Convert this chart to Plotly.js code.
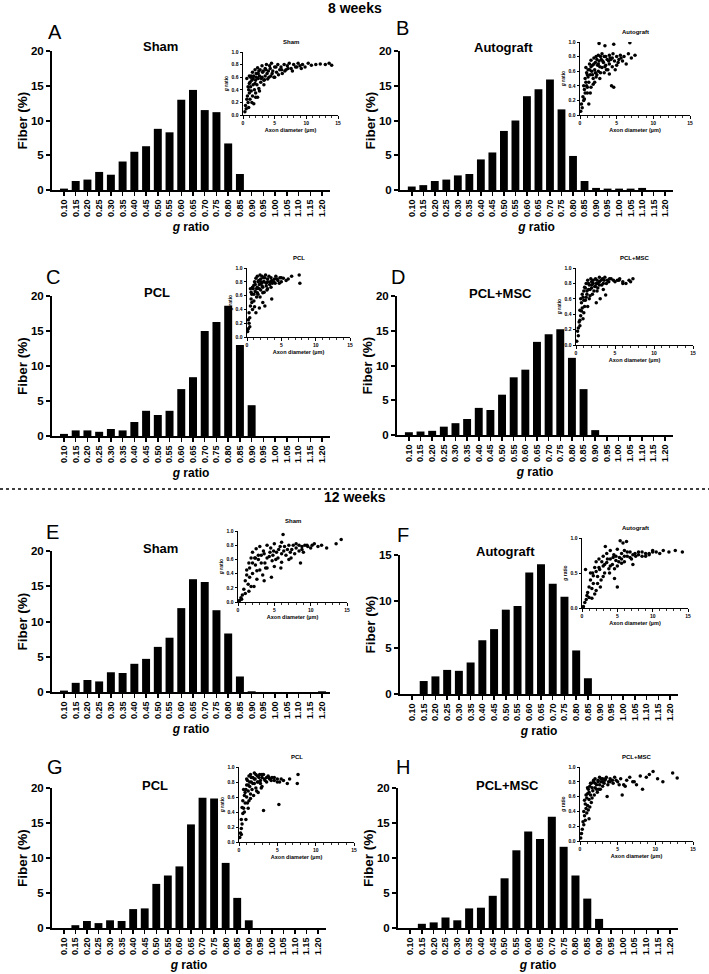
<!DOCTYPE html>
<html>
<head>
<meta charset="utf-8">
<script src="https://cdn.plot.ly/plotly-3.0.1.min.js"></script>
<style>html,body{margin:0;padding:0;background:#fff;}#chart{width:709px;height:974px;}</style>
</head>
<body>
<div id="chart"></div>
<script>
// ---------- DATA ----------
const gRatioBins = ['0.10','0.15','0.20','0.25','0.30','0.35','0.40','0.45','0.50','0.55','0.60','0.65','0.70','0.75','0.80','0.85','0.90','0.95','1.00','1.05','1.10','1.15','1.20'];

const shamWk8      = [0.2,1.3,1.5,2.6,2.2,4.1,5.5,6.3,8.8,8.3,13.0,14.4,11.5,11.2,6.7,2.3,0,0,0,0,0,0,0];
const autograftWk8 = [0.5,0.7,1.3,1.5,2.1,2.3,4.4,5.4,8.5,10.0,13.5,14.5,15.9,11.6,4.9,1.3,0.3,0.2,0.2,0.2,0.3,0,0];
const pclWk8       = [0.3,0.8,0.8,0.6,1.0,0.8,2.0,3.6,3.0,3.6,6.7,8.4,15.0,16.3,18.6,13.0,4.4,0,0,0,0,0,0];
const pclMscWk8    = [0.4,0.5,0.6,1.2,1.7,2.3,3.9,3.6,5.8,8.3,9.4,13.4,14.5,15.2,11.1,6.6,0.7,0,0,0,0,0,0];
const shamWk12     = [0.2,1.3,1.7,1.5,2.8,2.7,4.0,4.7,6.4,7.7,11.9,16.0,15.6,11.6,8.3,2.2,0.1,0,0,0,0,0,0.1];
const autograftWk12= [0,1.4,1.9,2.6,2.5,3.4,5.8,7.0,9.1,9.5,13.1,14.0,11.9,10.5,4.7,1.7,0,0,0,0,0,0,0];
const pclWk12      = [0,0.4,1.0,0.7,1.1,1.0,2.7,2.8,6.3,7.5,8.8,14.8,18.6,18.5,9.3,4.3,1.1,0,0,0,0,0,0];
const pclMscWk12   = [0,0.6,0.8,1.5,1.1,2.8,2.9,4.6,7.1,11.1,13.8,12.7,15.9,11.6,7.5,4.2,1.3,0,0,0,0,0,0];

// inset scatter: axon diameter (µm) vs g ratio (estimated sample of visible points)
const shamWk8AxonX = [0.3,0.4,0.5,0.6,0.7,0.8,0.9,1.0,1.0,1.1,1.2,1.2,1.3,1.4,1.5,1.5,1.6,1.7,1.8,1.9,2.0,2.0,2.1,2.2,2.3,2.4,2.5,2.5,2.6,2.8,3.0,3.0,3.1,3.3,3.5,3.5,3.7,3.9,4.0,4.2,4.4,4.5,4.7,5.0,5.0,5.3,5.5,5.8,6.0,6.2,6.5,6.8,7.0,7.3,7.6,8.0,8.3,8.7,9.0,9.4,9.8,10.3,10.8,11.5,12.2,13.0,13.6,14.0,1.0,1.7,2.3,0.6,
  0.8,1.1,1.3,1.6,1.9,2.1,2.4,2.7,2.9,3.2,3.4,3.6,3.8,4.1,4.3,4.6,4.9,5.2,5.6,6.1,6.6,7.1,7.8,8.5,9.2,0.9,1.4,2.0,2.6,3.3];
const shamWk8G     = [0.05,0.15,0.10,0.25,0.30,0.20,0.40,0.35,0.50,0.25,0.45,0.60,0.38,0.55,0.30,0.68,0.48,0.62,0.40,0.72,0.55,0.35,0.66,0.48,0.75,0.58,0.42,0.70,0.62,0.52,0.78,0.60,0.68,0.48,0.74,0.62,0.80,0.57,0.70,0.78,0.62,0.82,0.70,0.76,0.60,0.68,0.80,0.72,0.76,0.66,0.80,0.72,0.78,0.82,0.74,0.80,0.76,0.82,0.78,0.80,0.76,0.82,0.79,0.80,0.81,0.80,0.82,0.79,0.62,0.18,0.28,0.58,
  0.45,0.52,0.62,0.58,0.50,0.60,0.66,0.72,0.58,0.70,0.56,0.72,0.66,0.60,0.74,0.66,0.60,0.76,0.64,0.72,0.70,0.74,0.70,0.76,0.74,0.12,0.20,0.28,0.38,0.55];

const autoWk8AxonX = [0.1,0.2,0.3,0.4,0.5,0.6,0.7,0.8,0.9,1.0,1.0,1.1,1.2,1.3,1.4,1.5,1.5,1.6,1.7,1.8,1.9,2.0,2.0,2.1,2.2,2.3,2.4,2.5,2.5,2.6,2.7,2.8,3.0,3.0,3.2,3.3,3.5,3.5,3.7,3.8,4.0,4.0,4.2,4.4,4.5,4.7,5.0,5.0,5.3,5.5,5.8,6.0,6.3,6.6,7.0,7.5,2.6,3.4,4.6,6.8,4.3,4.6,1.2,0.8,
  0.5,0.7,0.9,1.1,1.3,1.5,1.7,1.9,2.1,2.3,2.5,2.7,2.9,3.1,3.3,3.6,3.9,4.1,4.4,4.8,5.2,5.6,0.6,1.0,1.4,1.8,2.2,2.8,3.4,4.0];
const autoWk8G     = [0.05,0.15,0.10,0.25,0.20,0.35,0.30,0.45,0.40,0.55,0.30,0.62,0.45,0.70,0.55,0.38,0.75,0.60,0.68,0.50,0.78,0.62,0.45,0.72,0.80,0.55,0.68,0.82,0.60,0.74,0.50,0.80,0.65,0.84,0.72,0.58,0.80,0.68,0.76,0.62,0.82,0.70,0.76,0.66,0.84,0.74,0.80,0.68,0.76,0.82,0.74,0.80,0.70,0.84,0.78,0.82,0.98,0.95,0.97,0.99,0.40,0.38,0.15,0.65,
  0.40,0.50,0.58,0.52,0.62,0.66,0.55,0.70,0.58,0.76,0.70,0.66,0.76,0.74,0.80,0.62,0.74,0.78,0.78,0.62,0.72,0.78,0.22,0.38,0.30,0.42,0.52,0.58,0.66,0.56];

const pclWk8AxonX  = [0.1,0.2,0.3,0.3,0.4,0.5,0.6,0.7,0.8,0.9,1.0,1.0,1.1,1.2,1.3,1.4,1.5,1.5,1.6,1.7,1.8,1.9,2.0,2.0,2.1,2.2,2.3,2.4,2.5,2.5,2.7,2.8,3.0,3.0,3.2,3.4,3.5,3.7,4.0,4.2,4.5,4.8,5.0,5.3,5.7,6.0,6.5,7.6,7.7,0.5,1.8,2.3,2.6,3.6,
  0.6,0.8,1.0,1.2,1.4,1.6,1.8,2.0,2.2,2.4,2.6,2.8,3.0,3.3,3.6,3.9,4.1,4.4,4.7,5.0,0.7,1.1,1.5,1.9,2.3,2.9,3.5,0.4,0.2,1.3];
const pclWk8G      = [0.08,0.12,0.20,0.35,0.28,0.45,0.55,0.62,0.40,0.70,0.75,0.52,0.80,0.66,0.85,0.58,0.72,0.88,0.62,0.82,0.76,0.90,0.68,0.84,0.78,0.88,0.72,0.86,0.80,0.65,0.90,0.78,0.84,0.70,0.88,0.80,0.86,0.78,0.84,0.88,0.82,0.86,0.80,0.85,0.82,0.84,0.88,0.90,0.78,0.70,0.42,0.50,0.45,0.55,
  0.65,0.72,0.62,0.76,0.70,0.80,0.70,0.80,0.74,0.80,0.86,0.74,0.80,0.76,0.82,0.80,0.78,0.84,0.78,0.86,0.50,0.44,0.64,0.58,0.64,0.68,0.72,0.15,0.25,0.35];

const mscWk8AxonX  = [0.1,0.2,0.3,0.4,0.5,0.5,0.6,0.7,0.8,0.9,1.0,1.0,1.1,1.2,1.3,1.4,1.5,1.5,1.6,1.7,1.8,1.9,2.0,2.0,2.2,2.3,2.5,2.5,2.7,2.8,3.0,3.0,3.2,3.4,3.5,3.7,4.0,4.2,4.5,4.8,5.0,5.3,5.6,6.0,6.4,6.8,7.3,2.6,3.1,3.8,
  0.6,0.8,1.0,1.2,1.4,1.6,1.8,2.0,2.2,2.4,2.6,2.8,3.0,3.3,3.6,3.9,4.3,0.7,0.9,1.1,1.3,1.7,2.1,2.7,3.5,5.5,6.0,7.0,0.3,0.5];
const mscWk8G      = [0.05,0.18,0.12,0.30,0.25,0.45,0.38,0.55,0.48,0.62,0.70,0.42,0.75,0.58,0.80,0.66,0.50,0.84,0.72,0.78,0.64,0.86,0.74,0.82,0.80,0.70,0.86,0.76,0.84,0.80,0.88,0.78,0.84,0.86,0.80,0.88,0.84,0.82,0.86,0.84,0.82,0.84,0.86,0.82,0.80,0.84,0.86,0.55,0.60,0.65,
  0.60,0.66,0.58,0.74,0.70,0.80,0.72,0.78,0.84,0.76,0.80,0.74,0.82,0.78,0.84,0.80,0.86,0.44,0.34,0.50,0.62,0.60,0.66,0.70,0.72,0.84,0.80,0.82,0.22,0.32];

const shamWk12AxonX= [0.2,0.4,0.6,0.8,1.0,1.0,1.2,1.4,1.5,1.6,1.8,2.0,2.0,2.2,2.4,2.5,2.6,2.8,3.0,3.0,3.2,3.4,3.5,3.7,4.0,4.0,4.3,4.5,4.7,5.0,5.0,5.3,5.5,5.8,6.0,6.0,6.3,6.6,7.0,7.0,7.4,7.8,8.0,8.4,8.8,9.0,9.5,10.0,10.5,11.0,11.5,12.2,13.5,14.2,6.2,1.5,3.6,2.3,4.6,8.6,
  1.2,1.6,2.0,2.4,2.8,3.2,3.6,4.0,4.4,4.8,5.2,5.6,6.0,6.4,6.8,7.2,7.6,8.0,8.4,8.8,9.2,9.6,10.2,2.6,3.8,4.9,5.9,7.3,0.5,1.8];
const shamWk12G    = [0.02,0.06,0.10,0.18,0.30,0.12,0.45,0.25,0.55,0.35,0.62,0.40,0.70,0.22,0.52,0.75,0.32,0.60,0.78,0.45,0.66,0.38,0.72,0.55,0.80,0.48,0.64,0.76,0.58,0.82,0.50,0.70,0.62,0.78,0.84,0.56,0.72,0.66,0.80,0.60,0.74,0.68,0.82,0.72,0.78,0.70,0.80,0.76,0.82,0.78,0.80,0.76,0.82,0.88,0.95,0.15,0.30,0.62,0.35,0.55,
  0.38,0.48,0.55,0.62,0.66,0.55,0.68,0.62,0.70,0.66,0.60,0.74,0.68,0.78,0.74,0.70,0.80,0.76,0.80,0.74,0.80,0.78,0.80,0.44,0.48,0.72,0.48,0.62,0.04,0.22];

const autoWk12AxonX= [0.2,0.4,0.6,0.8,1.0,1.0,1.2,1.4,1.5,1.6,1.8,2.0,2.0,2.2,2.4,2.5,2.7,3.0,3.0,3.2,3.5,3.5,3.8,4.0,4.0,4.3,4.5,4.8,5.0,5.0,5.3,5.6,6.0,6.0,6.4,6.8,7.0,7.5,8.0,8.5,9.0,9.5,10.0,10.5,11.0,11.5,12.3,13.2,14.2,5.4,5.8,6.3,5.0,0.5,3.3,1.8,4.6,7.2,
  1.2,1.6,2.0,2.4,2.8,3.2,3.6,4.0,4.4,4.8,5.2,5.6,6.0,6.4,6.8,7.2,7.6,8.0,8.5,9.0,9.5,10.0,2.2,3.0,3.9,4.6,5.6,0.7,1.4,2.6];
const autoWk12G    = [0.02,0.08,0.12,0.22,0.30,0.15,0.40,0.28,0.50,0.35,0.58,0.25,0.66,0.45,0.70,0.55,0.40,0.74,0.60,0.50,0.78,0.65,0.56,0.82,0.70,0.62,0.76,0.68,0.84,0.60,0.72,0.78,0.82,0.66,0.74,0.80,0.70,0.78,0.76,0.80,0.74,0.78,0.82,0.80,0.78,0.82,0.80,0.82,0.80,0.96,0.93,0.95,0.30,0.55,0.88,0.20,0.42,0.62,
  0.50,0.46,0.52,0.58,0.66,0.62,0.70,0.60,0.72,0.74,0.66,0.70,0.74,0.80,0.72,0.76,0.74,0.80,0.74,0.78,0.76,0.80,0.35,0.45,0.50,0.56,0.64,0.18,0.14,0.30];

const pclWk12AxonX = [0.1,0.2,0.3,0.3,0.4,0.5,0.5,0.6,0.7,0.8,0.9,1.0,1.0,1.1,1.2,1.3,1.4,1.5,1.5,1.6,1.7,1.8,2.0,2.0,2.1,2.2,2.4,2.5,2.5,2.7,2.8,3.0,3.0,3.2,3.4,3.6,3.8,4.0,4.3,4.6,5.0,5.3,5.8,6.3,6.6,7.7,7.6,3.2,5.2,1.2,
  0.6,0.8,1.0,1.2,1.4,1.6,1.8,2.0,2.2,2.4,2.6,2.8,3.0,3.3,3.6,3.9,4.2,4.6,5.0,5.5,0.7,1.1,1.5,1.9,2.3,2.9,0.4,0.3,0.9,1.3];
const pclWk12G     = [0.06,0.12,0.18,0.30,0.24,0.38,0.55,0.45,0.62,0.52,0.70,0.76,0.60,0.82,0.68,0.88,0.74,0.58,0.90,0.80,0.70,0.86,0.78,0.92,0.84,0.72,0.88,0.80,0.66,0.90,0.82,0.86,0.74,0.90,0.82,0.86,0.88,0.84,0.86,0.82,0.84,0.80,0.82,0.78,0.84,0.90,0.78,0.42,0.50,0.45,
  0.70,0.66,0.84,0.76,0.80,0.86,0.78,0.84,0.90,0.80,0.86,0.78,0.90,0.84,0.80,0.86,0.82,0.86,0.80,0.84,0.40,0.52,0.64,0.62,0.68,0.72,0.46,0.10,0.30,0.55];

const mscWk12AxonX = [0.1,0.2,0.3,0.4,0.5,0.5,0.6,0.7,0.8,0.9,1.0,1.0,1.1,1.2,1.3,1.4,1.5,1.5,1.7,1.8,2.0,2.0,2.2,2.4,2.5,2.6,2.8,3.0,3.0,3.3,3.5,3.8,4.0,4.3,4.6,5.0,5.4,5.8,6.2,6.6,7.0,7.5,8.0,8.3,8.8,9.2,9.7,10.3,11.0,12.3,12.9,1.2,3.6,5.6,
  0.6,0.8,1.0,1.2,1.4,1.6,1.8,2.0,2.2,2.4,2.6,2.8,3.0,3.2,3.4,3.7,4.0,4.4,4.8,5.2,0.7,0.9,1.1,1.3,1.6,1.9,2.3,2.7,6.0,7.2];
const mscWk12G     = [0.04,0.10,0.16,0.26,0.22,0.40,0.34,0.50,0.44,0.58,0.64,0.48,0.70,0.56,0.74,0.62,0.52,0.78,0.68,0.80,0.72,0.84,0.76,0.82,0.70,0.86,0.80,0.84,0.74,0.82,0.86,0.80,0.84,0.82,0.86,0.80,0.84,0.76,0.82,0.86,0.80,0.76,0.88,0.70,0.86,0.90,0.94,0.84,0.80,0.92,0.85,0.30,0.60,0.62,
  0.55,0.62,0.72,0.66,0.78,0.72,0.82,0.78,0.70,0.80,0.76,0.84,0.80,0.78,0.84,0.76,0.80,0.78,0.82,0.76,0.28,0.38,0.42,0.46,0.58,0.62,0.66,0.70,0.74,0.80];

const groupNames = ['Sham','Autograft','PCL','PCL+MSC','Sham','Autograft','PCL','PCL+MSC'];
const panelLetters = ['A','B','C','D','E','F','G','H'];

// ---------- LAYOUT GEOMETRY (pixels) ----------
const W = 709, H = 974;
const FONT = 'Arial, "Liberation Sans", Helvetica, sans-serif';
const panels = [
  {hist: shamWk8,       sx: shamWk8AxonX,  sy: shamWk8G,  main:[52,330,51,190],  ymax:20, inset:[243,338,52,115],  insetYd:0.2, letter:[55,32],  title:[160,47]},
  {hist: autograftWk8,  sx: autoWk8AxonX,  sy: autoWk8G,  main:[400,673,51,190], ymax:20, inset:[580,690,42,115],  insetYd:0.2, letter:[402,28], title:[503,48]},
  {hist: pclWk8,        sx: pclWk8AxonX,   sy: pclWk8G,   main:[52,330,296,436], ymax:20, inset:[247,350,268,337], insetYd:0.2, letter:[53,277], title:[157,292]},
  {hist: pclMscWk8,     sx: mscWk8AxonX,   sy: mscWk8G,   main:[397,673,296,435],ymax:20, inset:[576,693,268,345], insetYd:0.2, letter:[398,277],title:[500,293]},
  {hist: shamWk12,      sx: shamWk12AxonX, sy: shamWk12G, main:[52,330,551,692], ymax:20, inset:[238,347,531,602], insetYd:0.2, letter:[53,532], title:[160,548]},
  {hist: autograftWk12, sx: autoWk12AxonX, sy: autoWk12G, main:[400,678,555,694],ymax:15, inset:[582,688,538,608], insetYd:0.5, letter:[403,535],title:[505,551]},
  {hist: pclWk12,       sx: pclWk12AxonX,  sy: pclWk12G,  main:[52,326,788,928], ymax:20, inset:[239,354,767,842], insetYd:0.2, letter:[55,767], title:[155,785]},
  {hist: pclMscWk12,    sx: mscWk12AxonX,  sy: mscWk12G,  main:[398,678,788,928],ymax:20, inset:[580,693,767,841], insetYd:0.2, letter:[403,767],title:[507,785]}
];

const px = (a,b) => [a/W, b/W];
const py = (top,bottom) => [1-bottom/H, 1-top/H];

const data = [];
const layout = {
  width: W, height: H,
  margin: {l:0, r:0, t:0, b:0},
  paper_bgcolor: '#fff', plot_bgcolor: 'rgba(0,0,0,0)',
  showlegend: false,
  bargap: 0.32,
  font: {family: FONT, color: '#000'},
  annotations: [], shapes: []
};

panels.forEach((p, i) => {
  const m = 2*i+1, n = 2*i+2;
  const xm = 'x'+m, ym = 'y'+m, xn = 'x'+n, yn = 'y'+n;
  data.push({type:'bar', x: gRatioBins, y: p.hist, xaxis: xm, yaxis: ym,
    marker:{color:'#000', line:{width:0}}, hoverinfo:'x+y'});
  data.push({type:'scatter', mode:'markers', x: p.sx, y: p.sy, xaxis: xn, yaxis: yn,
    marker:{color:'#000', size:3.5, line:{width:0}}, hoverinfo:'x+y'});

  layout['xaxis'+m] = {
    domain: px(p.main[0], p.main[1]), anchor: ym,
    type:'category', range:[-1.02, 22.68], fixedrange:true,
    showline:true, linewidth:2, linecolor:'#000', showgrid:false, zeroline:false,
    ticks:'outside', ticklen:4, tickwidth:1.5, tickcolor:'#000',
    tickangle:-90, tickfont:{family:FONT, size:9, weight:'bold', color:'#000'},
    title:{text:'<i>g</i> ratio', font:{family:FONT, size:12, weight:'bold', color:'#000'}, standoff:6}
  };
  layout['yaxis'+m] = {
    domain: py(p.main[2], p.main[3]), anchor: xm,
    range:[0, p.ymax], dtick:5, fixedrange:true,
    showline:true, linewidth:2, linecolor:'#000', showgrid:false, zeroline:false,
    ticks:'outside', ticklen:4, tickwidth:2, tickcolor:'#000',
    tickfont:{family:FONT, size:11.5, weight:'bold', color:'#000'}
  };
  layout['xaxis'+n] = {
    domain: px(p.inset[0], p.inset[1]), anchor: yn,
    range:[0,15], dtick:5, fixedrange:true,
    showline:true, linewidth:1, linecolor:'#000', showgrid:false, zeroline:false,
    ticks:'outside', ticklen:2.5, tickwidth:1, tickcolor:'#000',
    minor:{dtick:1, ticks:'outside', ticklen:1.5, tickwidth:0.8, tickcolor:'#000', showgrid:false},
    tickfont:{family:FONT, size:5, weight:'bold', color:'#000'},
    title:{text:'Axon diameter (µm)', font:{family:FONT, size:5.5, weight:'bold', color:'#000'}, standoff:3}
  };
  layout['yaxis'+n] = {
    domain: py(p.inset[2], p.inset[3]), anchor: xn,
    range:[0,1], dtick:p.insetYd, tickformat:'.1f', fixedrange:true,
    showline:true, linewidth:1, linecolor:'#000', showgrid:false, zeroline:false,
    ticks:'outside', ticklen:2.5, tickwidth:1, tickcolor:'#000',
    tickfont:{family:FONT, size:5, weight:'bold', color:'#000'},
    title:{text:'<i>g</i> ratio', font:{family:FONT, size:5, weight:'bold', color:'#000'}, standoff:2}
  };

  // y-axis title of histogram
  layout.annotations.push({xref:'paper', yref:'paper', x:(p.main[0]-30)/W, y:1-(p.main[2]+p.main[3])/2/H,
    text:'Fiber (%)', textangle:-90, showarrow:false, xanchor:'center', yanchor:'middle',
    font:{family:FONT, size:13.5, weight:'bold', color:'#000'}});
  // panel letter
  layout.annotations.push({xref:'paper', yref:'paper', x:p.letter[0]/W, y:1-p.letter[1]/H,
    text:panelLetters[i], showarrow:false, xanchor:'center', yanchor:'middle',
    font:{family:FONT, size:20, color:'#000'}});
  // group title
  layout.annotations.push({xref:'paper', yref:'paper', x:p.title[0]/W, y:1-p.title[1]/H,
    text:groupNames[i], showarrow:false, xanchor:'center', yanchor:'middle',
    font:{family:FONT, size:13, weight:'bold', color:'#000'}});
  // inset title
  layout.annotations.push({xref:'paper', yref:'paper', x:(p.inset[0]+p.inset[1])/2/W, y:1-(p.inset[2]-10)/H,
    text:groupNames[i], showarrow:false, xanchor:'center', yanchor:'middle',
    font:{family:FONT, size:6, weight:'bold', color:'#000'}});
});

// section headings
layout.annotations.push({xref:'paper', yref:'paper', x:355/W, y:1-8/H, text:'8 weeks', showarrow:false,
  xanchor:'center', yanchor:'middle', font:{family:FONT, size:14, weight:'bold', color:'#000'}});
layout.annotations.push({xref:'paper', yref:'paper', x:355/W, y:1-497/H, text:'12 weeks', showarrow:false,
  xanchor:'center', yanchor:'middle', font:{family:FONT, size:14, weight:'bold', color:'#000'}});

// dotted separator
layout.shapes.push({type:'line', xref:'paper', yref:'paper', x0:0, x1:1, y0:1-489/H, y1:1-489/H,
  line:{color:'#000', width:1.5, dash:'dot'}});

Plotly.newPlot('chart', data, layout, {staticPlot:true, displayModeBar:false});
</script>
</body>
</html>
